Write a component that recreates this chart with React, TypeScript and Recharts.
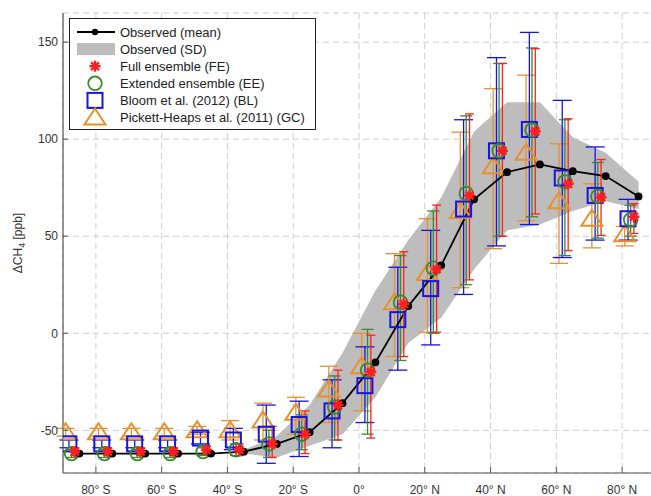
import React from "react"
import {
  ComposedChart,
  XAxis,
  YAxis,
  CartesianGrid,
  Area,
  Line,
  Scatter,
  ErrorBar,
} from "recharts"

// latitude bands (bin centres, degrees)
const LAT = [-85, -75, -65, -55, -45, -35, -25, -15, -5, 5, 15, 25, 35, 45, 55, 65, 75, 85]

const X_TICKS = [-80, -60, -40, -20, 0, 20, 40, 60, 80]
const X_TICK_LABELS = ["80° S", "60° S", "40° S", "20° S", "0°", "20° N", "40° N", "60° N", "80° N"]
const Y_TICKS = [-50, 0, 50, 100, 150]

// observed
const OBS_MEAN = [-62, -62, -62, -62, -62, -61, -57, -51, -36, -15, 14, 35, 69, 83, 87, 83.5, 81, 70.5]
const OBS_SD_LOW = [null, null, null, null, null, -62, -64, -58, -52, -33, -5, 8, 33, 53, 56, 63, 68, 64]
const OBS_SD_HIGH = [null, null, null, null, null, -60, -53, -37, -10, 22, 48, 70, 104, 119, 119, 101, 93, 78]

// full ensemble (FE)
const FE_MEAN = [-61, -61, -61, -61, -60, -60, -57, -52, -37, -20, 15, 33, 71, 94, 104, 77, 70, 60]
const FE_LOW = [-63, -63, -63, -63, -62, -63, -64, -62, -55, -54, -12, 0.5, 27.5, 50, 61.5, 42.6, 50.4, 51.4]
const FE_HIGH = [-59, -59, -59, -59, -58, -57, -48, -40, -19, -1, 42, 66, 113, 139, 146.6, 110.5, 89.5, 66.8]

// extended ensemble (EE)
const EE_MEAN = [-62, -62, -62, -62, -61, -60, -57, -52, -38, -19, 16, 33.5, 72, 94, 104.7, 78, 70.5, 58.5]
const EE_LOW = [-64, -64, -64, -64, -63, -63, -64, -60, -55, -52, -14, 0, 25, 50, 60, 40, 49, 50]
const EE_HIGH = [-60, -60, -60, -60, -59, -57, -50, -42, -22, 2, 40, 63, 112, 139, 147, 110, 88, 66]

// Bloom et al. (2012) (BL)
const BL_MEAN = [-57, -57, -57, -57, -54, -55, -52, -47, -40, -27, 7, 23, 64, 94, 105, 80, 71, 59]
const BL_LOW = [-59, -59, -59, -59, -57, -60, -67, -63.5, -59, -46, -19, -6, 20, 45, 56, 39, 48, 48]
const BL_HIGH = [-55, -55, -55, -55, -51, -49, -37, -35, -24, -7, 34, 53, 110, 142, 155, 120, 96, 69]

// Pickett-Heaps et al. (2011) (GC)
const GC_MEAN = [-51, -51, -51, -51, -50, -50, -45, -41, -29, -17, 16, 31, 63, 86, 93, 68, 59, 51]
const GC_LOW = [-53, -53, -53, -53, -52, -55, -55, -52, -46, -40, -12, 0.5, 23.5, 43.6, 58, 36, 44, 45]
const GC_HIGH = [-49, -49, -49, -49, -48, -45, -36, -33, -17, 0, 41, 59, 103.6, 126, 133, 97.6, 77, 55]

const obsData = LAT.map((lat, i) => ({
  lat,
  mean: OBS_MEAN[i],
  band: OBS_SD_LOW[i] == null ? null : [OBS_SD_LOW[i], OBS_SD_HIGH[i]],
}))

// models are drawn slightly to the left of the bin centre, one after the other
const modelData = (mean: number[], low: number[], high: number[], shift: number) =>
  LAT.map((lat, i) => ({
    lat: lat + shift,
    y: mean[i],
    err: [mean[i] - low[i], high[i] - mean[i]],
  }))

const feData = modelData(FE_MEAN, FE_LOW, FE_HIGH, -1.4)
const eeData = modelData(EE_MEAN, EE_LOW, EE_HIGH, -2.4)
const blData = modelData(BL_MEAN, BL_LOW, BL_HIGH, -3.2)
const gcData = modelData(GC_MEAN, GC_LOW, GC_HIGH, -4.2)

const RED = "#ff1f1f"
const GREEN = "#3a8a2c"
const BLUE = "#1414e6"
const ORANGE = "#e8912c"
const BAND = "#bdbdbd"

const StarMark = ({ cx, cy }: any) => {
  const r = 5.5
  const d = r * 0.72
  return (
    <g stroke={RED} strokeWidth={2.4}>
      <line x1={cx - r} y1={cy} x2={cx + r} y2={cy} />
      <line x1={cx} y1={cy - r} x2={cx} y2={cy + r} />
      <line x1={cx - d} y1={cy - d} x2={cx + d} y2={cy + d} />
      <line x1={cx - d} y1={cy + d} x2={cx + d} y2={cy - d} />
      <circle cx={cx} cy={cy} r={2.8} fill={RED} stroke="none" />
    </g>
  )
}

const CircleMark = ({ cx, cy }: any) => (
  <circle cx={cx} cy={cy} r={6.8} fill="none" stroke={GREEN} strokeWidth={1.8} />
)

const SquareMark = ({ cx, cy }: any) => (
  <rect x={cx - 7.5} y={cy - 7.5} width={15} height={15} fill="none" stroke={BLUE} strokeWidth={2} />
)

const TriangleMark = ({ cx, cy }: any) => (
  <polygon
    points={`${cx},${cy - 9} ${cx - 10.5},${cy + 7} ${cx + 10.5},${cy + 7}`}
    fill="none"
    stroke={ORANGE}
    strokeWidth={2}
    strokeLinejoin="miter"
  />
)

const YLabel = ({ viewBox }: any) => {
  const x = 22
  const y = viewBox.y + viewBox.height / 2
  return (
    <text
      x={x}
      y={y}
      transform={`rotate(-90, ${x}, ${y})`}
      textAnchor="middle"
      fontSize={12}
      fill="#333"
    >
      <tspan>ΔCH</tspan>
      <tspan dy={3} fontSize={9}>4</tspan>
      <tspan dy={-3}> [ppb]</tspan>
    </text>
  )
}

const LEGEND_ROWS = [
  "Observed (mean)",
  "Observed (SD)",
  "Full ensemble (FE)",
  "Extended ensemble (EE)",
  "Bloom et al. (2012) (BL)",
  "Pickett-Heaps et al. (2011) (GC)",
]

function LegendBox() {
  const rowY = (i: number) => 14 + i * 17.1
  const ix = 26
  return (
    <svg
      width={248}
      height={113}
      style={{ position: "absolute", left: 69, top: 18 }}
    >
      <rect x={0.5} y={0.5} width={246} height={111} fill="#fff" stroke="#222" strokeWidth={1} />
      <line x1={8} y1={rowY(0)} x2={46} y2={rowY(0)} stroke="#000" strokeWidth={1.8} />
      <circle cx={ix} cy={rowY(0)} r={3.2} fill="#000" />
      <rect x={8} y={rowY(1) - 6} width={38} height={12} fill={BAND} />
      <StarMark cx={ix} cy={rowY(2)} />
      <CircleMark cx={ix} cy={rowY(3)} />
      <SquareMark cx={ix} cy={rowY(4)} />
      <TriangleMark cx={ix} cy={rowY(5)} />
      {LEGEND_ROWS.map((t, i) => (
        <text key={t} x={51} y={rowY(i)} dy="0.35em" fontSize={13} fill="#222">
          {t}
        </text>
      ))}
    </svg>
  )
}

export default function App() {
  return (
    <div
      style={{
        position: "absolute",
        left: 0,
        top: 0,
        width: 651,
        height: 496,
        overflow: "hidden",
        background: "#fff",
        fontFamily: "'Liberation Sans', Arial, sans-serif",
      }}
    >
      <ComposedChart
        width={660}
        height={496}
        data={obsData}
        margin={{ top: 13, right: 5, bottom: 0, left: 0 }}
      >
        <CartesianGrid stroke="#cdcdcd" strokeDasharray="6 4" />
        <XAxis
          type="number"
          dataKey="lat"
          domain={[-90, 90]}
          ticks={X_TICKS}
          tickFormatter={(v: number) => X_TICK_LABELS[X_TICKS.indexOf(v)]}
          height={23}
          tickSize={-6}
          tickMargin={18}
          axisLine={{ stroke: "#555", strokeWidth: 1.2 }}
          tickLine={{ stroke: "#555" }}
          tick={{ fontSize: 12, fill: "#333" }}
          allowDataOverflow
        />
        <YAxis
          type="number"
          domain={[-72, 165]}
          ticks={Y_TICKS}
          width={63}
          tickSize={-5}
          tickMargin={10}
          axisLine={{ stroke: "#555", strokeWidth: 1.2 }}
          tickLine={{ stroke: "#555" }}
          tick={{ fontSize: 12, fill: "#333" }}
          label={<YLabel />}
          allowDataOverflow
        />
        <Area
          dataKey="band"
          type="linear"
          stroke="none"
          fill={BAND}
          fillOpacity={1}
          isAnimationActive={false}
        />
        <Scatter data={gcData} dataKey="y" shape={TriangleMark} isAnimationActive={false}>
          <ErrorBar dataKey="err" direction="y" width={9} stroke={ORANGE} strokeWidth={1.3} />
        </Scatter>
        <Scatter data={blData} dataKey="y" shape={SquareMark} isAnimationActive={false}>
          <ErrorBar dataKey="err" direction="y" width={9.5} stroke={BLUE} strokeWidth={1.3} />
        </Scatter>
        <Scatter data={eeData} dataKey="y" shape={CircleMark} isAnimationActive={false}>
          <ErrorBar dataKey="err" direction="y" width={6} stroke={GREEN} strokeWidth={1.3} />
        </Scatter>
        <Line
          dataKey="mean"
          type="linear"
          stroke="#000"
          strokeWidth={1.8}
          dot={{ r: 3, fill: "#000", stroke: "#000" }}
          isAnimationActive={false}
        />
        <Scatter data={feData} dataKey="y" shape={StarMark} isAnimationActive={false}>
          <ErrorBar dataKey="err" direction="y" width={4.5} stroke={RED} strokeWidth={1.3} />
        </Scatter>
      </ComposedChart>
      <LegendBox />
    </div>
  )
}
